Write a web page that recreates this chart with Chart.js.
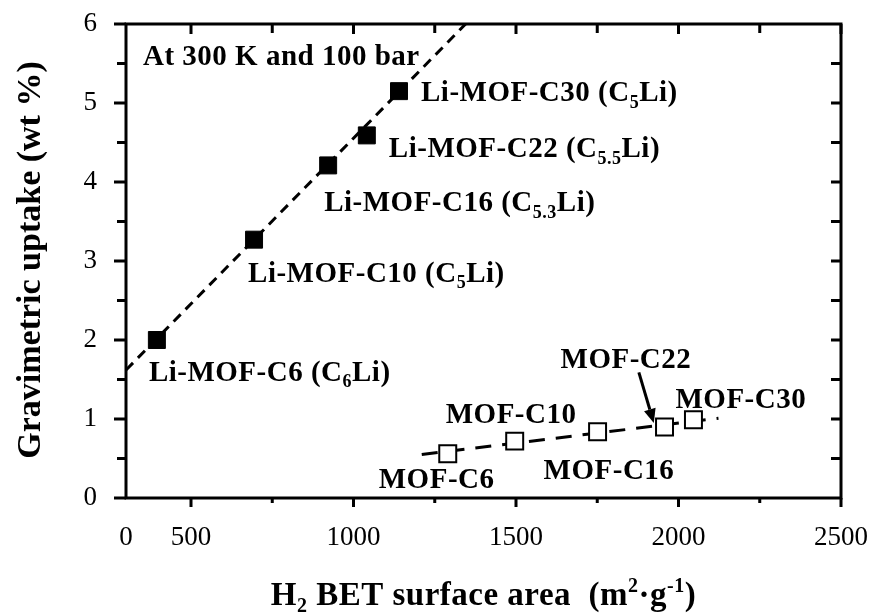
<!DOCTYPE html>
<html>
<head>
<meta charset="utf-8">
<script src="https://cdn.jsdelivr.net/npm/chart.js@4/dist/chart.umd.min.js"></script>
<style>
  html, body { margin: 0; padding: 0; background: #fff; }
  #wrap { width: 875px; height: 613px; }
</style>
</head>
<body>
<div id="wrap"><canvas id="c" width="875" height="613"></canvas></div>
<script>
// Li-doped frameworks (filled squares)
const liNames = ['Li-MOF-C6', 'Li-MOF-C10', 'Li-MOF-C16', 'Li-MOF-C22', 'Li-MOF-C30'];
const liSub = ['6', '5', '5.3', '5.5', '5'];
const liArea = [395, 694, 922, 1041, 1140];
const liUptake = [2.00, 3.27, 4.21, 4.59, 5.15];

// Pristine frameworks (open squares)
const mofNames = ['MOF-C6', 'MOF-C10', 'MOF-C16', 'MOF-C22', 'MOF-C30'];
const mofArea = [1290, 1496, 1751, 1957, 2046];
const mofUptake = [0.56, 0.72, 0.84, 0.90, 0.99];

// Linear fits drawn as dashed lines
const liFitArea = [300, 1345];
const liFitUptake = [1.62, 6.0];
const mofFitArea = [1210, 2123];
const mofFitUptake = [0.55, 1.01];

// Axis ticks
const xTickValues = [300, 500, 1000, 1500, 2000, 2500];
const xTickLabels = ['0', '500', '1000', '1500', '2000', '2500'];
const xMinorTicks = [750, 1250, 1750, 2250];
const yTickValues = [0, 1, 2, 3, 4, 5, 6];
const yMinorTicks = [0.5, 1.5, 2.5, 3.5, 4.5, 5.5];

// Arrow pointing at MOF-C22 (tail, head) in data units
const arrowArea = [1878, 1924];
const arrowUptake = [1.59, 0.95];

const SERIF = '"Liberation Serif", "Times New Roman", serif';
const LABEL_SIZE = 29;
const LABEL_SPACING = 0.5;

// label offsets (px) from each point
const liLabelOffset = [[-8, 41], [-6, 42], [-4, 46], [22, 22], [22, 10]];
const mofLabelOffset = [[-69, 34], [-69, -18], [-54, 47], [-104, -59], [-18, -12]];

function pts(xs, ys) { return xs.map((x, i) => ({ x: x, y: ys[i] })); }

function drawRich(ctx, segs, x, y, size, spacing) {
  let cx = x;
  ctx.letterSpacing = spacing + 'px';
  for (const s of segs) {
    const fs = s.sub || s.sup ? Math.round(size * 0.62) : size;
    ctx.font = 'bold ' + fs + 'px ' + SERIF;
    let dy = 0;
    if (s.sub) dy = size * 0.22;
    if (s.sup) dy = -size * 0.38;
    ctx.fillText(s.t, cx, y + dy);
    cx += ctx.measureText(s.t).width;
  }
  ctx.letterSpacing = '0px';
  return cx - x;
}
function richWidth(ctx, segs, size, spacing) {
  let w = 0;
  ctx.letterSpacing = spacing + 'px';
  for (const s of segs) {
    const fs = s.sub || s.sup ? Math.round(size * 0.62) : size;
    ctx.font = 'bold ' + fs + 'px ' + SERIF;
    w += ctx.measureText(s.t).width;
  }
  ctx.letterSpacing = '0px';
  return w;
}

function noScalePadding(s) {
  s.paddingLeft = 0; s.paddingRight = 0; s.paddingTop = 0; s.paddingBottom = 0;
}

const decorations = {
  id: 'decorations',
  afterDatasetsDraw(chart) {
    const ctx = chart.ctx;
    const xs = chart.scales.x, ys = chart.scales.y;
    const a = chart.chartArea;
    ctx.save();
    ctx.strokeStyle = '#000';
    ctx.fillStyle = '#000';
    ctx.lineWidth = 3;
    ctx.lineCap = 'butt';

    // frame
    ctx.strokeRect(a.left, a.top, a.right - a.left, a.bottom - a.top);

    ctx.beginPath();
    // bottom (outward) and top (inward) ticks
    for (const v of xTickValues.slice(1)) {
      const px = xs.getPixelForValue(v);
      ctx.moveTo(px, a.bottom); ctx.lineTo(px, a.bottom + 9);
      ctx.moveTo(px, a.top); ctx.lineTo(px, a.top + 10);
    }
    for (const v of xMinorTicks) {
      const px = xs.getPixelForValue(v);
      ctx.moveTo(px, a.bottom); ctx.lineTo(px, a.bottom + 5);
      ctx.moveTo(px, a.top); ctx.lineTo(px, a.top + 9);
    }
    // left (outward) and right (inward) ticks
    for (const v of yTickValues) {
      const py = ys.getPixelForValue(v);
      ctx.moveTo(a.left, py); ctx.lineTo(a.left - 12, py);
      if (v > 0 && v < 6) { ctx.moveTo(a.right, py); ctx.lineTo(a.right - 10, py); }
    }
    for (const v of yMinorTicks) {
      const py = ys.getPixelForValue(v);
      ctx.moveTo(a.left, py); ctx.lineTo(a.left - 9, py);
      ctx.moveTo(a.right, py); ctx.lineTo(a.right - 10, py);
    }
    ctx.stroke();

    // arrow to MOF-C22
    const x0 = xs.getPixelForValue(arrowArea[0]), y0 = ys.getPixelForValue(arrowUptake[0]);
    const x1 = xs.getPixelForValue(arrowArea[1]), y1 = ys.getPixelForValue(arrowUptake[1]);
    const ang = Math.atan2(y1 - y0, x1 - x0);
    const hl = 14, hw = 6;
    const bx = x1 - hl * Math.cos(ang), by = y1 - hl * Math.sin(ang);
    ctx.beginPath();
    ctx.moveTo(x0, y0); ctx.lineTo(bx, by); ctx.stroke();
    ctx.beginPath();
    ctx.moveTo(x1, y1);
    ctx.lineTo(bx + hw * Math.sin(ang), by - hw * Math.cos(ang));
    ctx.lineTo(bx - hw * Math.sin(ang), by + hw * Math.cos(ang));
    ctx.closePath(); ctx.fill();

    // annotations
    ctx.textAlign = 'left';
    ctx.textBaseline = 'alphabetic';
    drawRich(ctx, [{ t: 'At 300 K and 100 bar' }], a.left + 17, a.top + 41, LABEL_SIZE, LABEL_SPACING);

    liNames.forEach((n, i) => {
      const px = xs.getPixelForValue(liArea[i]), py = ys.getPixelForValue(liUptake[i]);
      const [dx, dy] = liLabelOffset[i];
      drawRich(ctx, [{ t: n + ' (C' }, { t: liSub[i], sub: true }, { t: 'Li)' }], px + dx, py + dy, LABEL_SIZE, LABEL_SPACING);
    });
    mofNames.forEach((n, i) => {
      const px = xs.getPixelForValue(mofArea[i]), py = ys.getPixelForValue(mofUptake[i]);
      const [dx, dy] = mofLabelOffset[i];
      drawRich(ctx, [{ t: n }], px + dx, py + dy, LABEL_SIZE, LABEL_SPACING);
    });

    // axis titles
    const xt = [{ t: 'H' }, { t: '2', sub: true }, { t: ' BET surface area  (m' }, { t: '2', sup: true }, { t: '\u00b7g' }, { t: '-1', sup: true }, { t: ')' }];
    const xw = richWidth(ctx, xt, 33, 0.5);
    drawRich(ctx, xt, (a.left + a.right) / 2 - xw / 2, 605, 33, 0.5);

    const yt = [{ t: 'Gravimetric uptake (wt %)' }];
    const yw = richWidth(ctx, yt, 34, 0);
    ctx.translate(40, 260);
    ctx.rotate(-Math.PI / 2);
    drawRich(ctx, yt, -yw / 2, 0, 34, 0);
    ctx.restore();
  }
};

new Chart(document.getElementById('c'), {
  type: 'scatter',
  data: {
    datasets: [
      {
        label: 'Li-MOF',
        data: pts(liArea, liUptake),
        pointStyle: 'rect', pointRadius: 12, pointHoverRadius: 12,
        backgroundColor: '#000', borderColor: '#000', borderWidth: 1,
        order: 1
      },
      {
        label: 'MOF',
        data: pts(mofArea, mofUptake),
        pointStyle: 'rect', pointRadius: 12, pointHoverRadius: 12,
        backgroundColor: '#fff', borderColor: '#000', borderWidth: 2,
        order: 1
      },
      {
        label: 'Li-MOF fit', type: 'line',
        data: pts(liFitArea, liFitUptake),
        borderColor: '#000', borderWidth: 3, borderDash: [10, 7],
        pointRadius: 0, fill: false, order: 2
      },
      {
        label: 'MOF fit', type: 'line',
        data: pts(mofFitArea, mofFitUptake),
        borderColor: '#000', borderWidth: 3, borderDash: [16, 11],
        pointRadius: 0, fill: false, order: 2
      }
    ]
  },
  options: {
    responsive: false,
    animation: false,
    devicePixelRatio: 1,
    layout: { padding: { top: 24, right: 34, left: 0, bottom: 0 } },
    plugins: { legend: { display: false }, tooltip: { enabled: false } },
    scales: {
      x: {
        type: 'linear', min: 300, max: 2500,
        afterBuildTicks: s => { s.ticks = xTickValues.map(v => ({ value: v })); },
        afterFit: s => { s.height = 115; noScalePadding(s); },
        grid: { display: false, drawTicks: false },
        border: { display: false },
        ticks: {
          padding: 24, color: '#000', maxRotation: 0,
          font: { family: SERIF, size: 27 },
          callback: v => xTickLabels[xTickValues.indexOf(v)]
        }
      },
      y: {
        type: 'linear', min: 0, max: 6,
        afterBuildTicks: s => { s.ticks = yTickValues.map(v => ({ value: v })); },
        afterFit: s => { s.width = 126; noScalePadding(s); },
        grid: { display: false, drawTicks: false },
        border: { display: false },
        ticks: {
          padding: 29, color: '#000',
          font: { family: SERIF, size: 27 }
        }
      }
    }
  },
  plugins: [decorations]
});
</script>
</body>
</html>
